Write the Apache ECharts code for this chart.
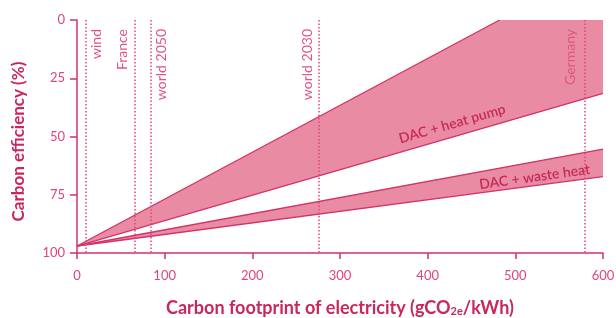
<!DOCTYPE html>
<html>
<head>
<meta charset="utf-8">
<script src="https://cdn.jsdelivr.net/npm/echarts@6/dist/echarts.min.js"></script>
<style>
  html, body { margin: 0; padding: 0; background: #fff; }
  #chart { width: 616px; height: 318px; }
</style>
</head>
<body>
<div id="chart"></div>
<script>
// 数据
const xTicks = [0, 100, 200, 300, 400, 500, 600];
const yTicks = [0, 25, 50, 75, 100];

// 热泵 DAC 带（上下边界）
const heatPumpUpperX = [0, 482, 600];
const heatPumpUpperY = [97, 0, 0];
const heatPumpLowerX = [0, 600];
const heatPumpLowerY = [97, 31.5];

// 余热 DAC 带
const wasteHeatUpperX = [0, 600];
const wasteHeatUpperY = [97, 55.4];
const wasteHeatLowerX = [0, 600];
const wasteHeatLowerY = [97, 67.2];

// 电力碳足迹参考线
const mixNames = ['wind', 'France', 'world 2050', 'world 2030', 'Germany'];
const mixValues = [10, 66, 84, 276, 579];

// 带标签
const bandNames = ['DAC + heat pump', 'DAC + waste heat'];
const bandLabelX = [428, 522];
const bandLabelY = [44.6, 67.4];

const LINE = '#d3326a';
const FILL = '#e88ba3';
const TEXT = '#c8285a';
const TICK = '#e0457a';
const FONT = 'Lato, "Noto Sans", sans-serif';

function zip(xs, ys) {
    return xs.map((x, i) => [x, ys[i]]);
}

// 多边形：上边界 + 反向的下边界
function bandPolygon(upper, lower) {
    return upper.concat(lower.slice().reverse());
}

function bandSeries(points) {
    return {
        type: 'custom',
        silent: true,
        data: [[0, 0]],
        renderItem: function (params, api) {
            return {
                type: 'polygon',
                shape: { points: points.map(p => api.coord(p)) },
                style: { fill: FILL }
            };
        },
        z: 1
    };
}

function edgeSeries(points) {
    // 贴着上边框的水平段不描边
    const data = points.filter((p, i, a) => i === 0 || a[i - 1][1] > 0);
    return {
        type: 'line',
        data: data,
        symbol: 'none',
        silent: true,
        lineStyle: { color: LINE, width: 1.3 },
        z: 3
    };
}

const hpUpper = zip(heatPumpUpperX, heatPumpUpperY);
const hpLower = zip(heatPumpLowerX, heatPumpLowerY);
const whUpper = zip(wasteHeatUpperX, wasteHeatUpperY);
const whLower = zip(wasteHeatLowerX, wasteHeatLowerY);

const chart = echarts.init(document.getElementById('chart'));

const option = {
    animation: false,
    grid: { left: 77, right: 13, top: 20, bottom: 65, outerBoundsMode: 'none' },
    xAxis: {
        type: 'value',
        min: 0,
        max: 600,
        interval: 100,
        name: 'Carbon footprint of electricity (gCO{sub|2e}/kWh)',
        nameLocation: 'middle',
        nameGap: 46,
        nameMoveOverlap: false,
        nameTextStyle: {
            color: TEXT,
            fontFamily: FONT,
            fontWeight: 'bold',
            fontSize: 18,
            rich: {
                sub: { fontSize: 11, fontWeight: 'bold', color: TEXT, fontFamily: FONT, verticalAlign: 'bottom', padding: [6, 0, 0, 0] }
            }
        },
        axisLine: { onZero: false, lineStyle: { color: LINE, width: 1.5 } },
        axisTick: { length: 6, lineStyle: { color: LINE, width: 1.5 } },
        axisLabel: {
            color: TICK, fontFamily: FONT, fontSize: 13, margin: 16,
            formatter: v => xTicks.includes(v) ? String(v) : ''
        },
        splitLine: { show: false }
    },
    yAxis: {
        type: 'value',
        inverse: true,
        min: 0,
        max: 100,
        interval: 25,
        name: 'Carbon efficiency (%)',
        nameLocation: 'middle',
        nameGap: 50,
        nameMoveOverlap: false,
        nameTextStyle: {
            color: TEXT, fontFamily: FONT, fontWeight: 'bold', fontSize: 17,
            padding: [0, 10, 0, 0]
        },
        axisLine: { onZero: false, lineStyle: { color: LINE, width: 1.5 } },
        axisTick: { length: 7, lineStyle: { color: LINE, width: 1.5 } },
        axisLabel: {
            color: TICK, fontFamily: FONT, fontSize: 13, margin: 12,
            formatter: v => yTicks.includes(v) ? String(v) : ''
        },
        splitLine: { show: false }
    },
    series: [
        bandSeries(bandPolygon(hpUpper, hpLower)),
        bandSeries(bandPolygon(whUpper, whLower)),
        edgeSeries(hpUpper),
        edgeSeries(hpLower),
        edgeSeries(whUpper),
        edgeSeries(whLower),
        {
            type: 'line',
            data: [],
            markLine: {
                silent: true,
                symbol: 'none',
                label: { show: false },
                lineStyle: { color: TICK, type: [1.5, 2], width: 1.5 },
                data: mixValues.map(v => ({ xAxis: v }))
            },
            z: 4
        }
    ]
};

chart.setOption(option);

// 文字标签（位置由坐标轴换算）
function buildLabels() {
    const top = chart.convertToPixel({ gridIndex: 0 }, [0, 0])[1];
    const mixOffset = [11, -12, 11, -11, -14];
    const mixLabels = mixNames.map((name, i) => {
        const px = chart.convertToPixel({ gridIndex: 0 }, [mixValues[i], 0])[0];
        return {
            type: 'text',
            x: px + mixOffset[i],
            y: top + 9,
            rotation: Math.PI / 2,
            silent: true,
            style: {
                text: name,
                fill: '#e05584',
                font: '14px ' + FONT,
                align: 'right',
                verticalAlign: 'middle'
            },
            z: 10
        };
    });
    const bandRotation = [16, 8];
    const bandLabels = bandNames.map((name, i) => {
        const p = chart.convertToPixel({ gridIndex: 0 }, [bandLabelX[i], bandLabelY[i]]);
        return {
            type: 'text',
            x: p[0],
            y: p[1],
            rotation: bandRotation[i] * Math.PI / 180,
            silent: true,
            style: {
                text: name,
                fill: TEXT,
                font: '600 14px ' + FONT,
                align: 'center',
                verticalAlign: 'middle'
            },
            z: 10
        };
    });
    chart.setOption({ graphic: mixLabels.concat(bandLabels) });
}

buildLabels();
</script>
</body>
</html>
